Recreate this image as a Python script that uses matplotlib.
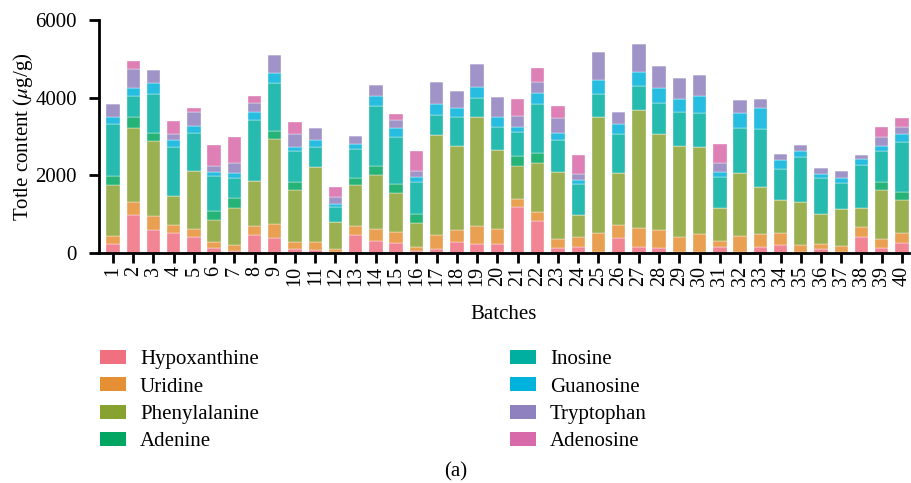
import matplotlib.pyplot as plt
from matplotlib.patches import Patch
import numpy as np

plt.rcParams['font.family'] = ['Liberation Serif', 'DejaVu Serif']
plt.rcParams['mathtext.fontset'] = 'stix'

batches = list(range(1, 41))

hypoxanthine = [243, 988, 590, 503, 416, 139, 52, 451, 390, 104,
                78, 20, 451, 312, 260, 52, 104, 295, 243, 225,
                1188, 815, 139, 165, 35, 381, 147, 139, 17, 35,
                156, 35, 147, 217, 35, 95, 35, 416, 139, 251]
uridine = [191, 321, 372, 208, 208, 156, 156, 243, 364, 191,
           217, 84, 234, 312, 278, 113, 364, 295, 442, 399,
           199, 243, 225, 242, 477, 330, 503, 442, 390, 451,
           165, 399, 330, 303, 173, 148, 156, 243, 225, 261]
phenylalanine = [1326, 1916, 1934, 763, 1483, 563, 954, 1161, 2194, 1318,
                 1925, 694, 1058, 1387, 1014, 607, 2558, 2158, 2826, 2038,
                 859, 1248, 1734, 564, 2999, 1344, 3043, 2471, 2341, 2236,
                 849, 1638, 1214, 833, 1110, 771, 953, 511, 1249, 849]
adenine = [234, 278, 199, 0, 0, 217, 243, 0, 191, 225,
           0, 0, 199, 235, 234, 242, 0, 0, 0, 0,
           251, 260, 0, 0, 0, 0, 0, 0, 0, 0,
           0, 0, 0, 0, 0, 0, 0, 0, 225, 217]
inosine = [1318, 529, 997, 1257, 988, 919, 537, 1561, 1231, 780,
           502, 390, 737, 1543, 1205, 824, 520, 755, 469, 581,
           607, 1266, 806, 815, 581, 1014, 607, 823, 885, 893,
           798, 1153, 1508, 806, 1153, 928, 651, 1084, 780, 1274]
guanosine = [191, 216, 278, 173, 174, 104, 113, 217, 277, 122,
             182, 86, 130, 260, 234, 121, 303, 242, 286, 260,
             139, 278, 183, 104, 364, 243, 364, 373, 329, 425,
             130, 373, 529, 234, 165, 104, 130, 156, 148, 200]
tryptophan = [329, 486, 355, 148, 355, 148, 251, 225, 442, 312,
              321, 174, 199, 269, 191, 156, 564, 417, 589, 520,
              277, 286, 398, 156, 720, 321, 729, 573, 546, 555,
              208, 338, 243, 147, 156, 139, 199, 104, 234, 191]
adenosine = [0, 208, 0, 347, 104, 546, 676, 174, 0, 329,
             0, 243, 0, 0, 173, 521, 0, 0, 0, 0,
             451, 373, 312, 468, 0, 0, 0, 0, 0, 0,
             512, 0, 0, 0, 0, 0, 0, 0, 243, 242]

names = ['Hypoxanthine', 'Uridine', 'Phenylalanine', 'Adenine',
         'Inosine', 'Guanosine', 'Tryptophan', 'Adenosine']
series = [hypoxanthine, uridine, phenylalanine, adenine,
          inosine, guanosine, tryptophan, adenosine]
colors = ['#F07080', '#E69035', '#88A232', '#00A661',
          '#00AFA0', '#00B2DC', '#8F80BE', '#D96AAA']

fs = 15

fig = plt.figure(figsize=(9.11, 4.83), dpi=100)
ax = fig.add_axes([99 / 911, 1 - 253 / 483, 810 / 911, 233 / 483])

bottom = np.zeros(len(batches))
for vals, c in zip(series, colors):
    ax.bar(batches, vals, 0.66, bottom=bottom, color=c, alpha=0.85,
           edgecolor='white', linewidth=0.3)
    bottom += np.array(vals)

ax.set_xlim(0.31, 40.35)
ax.set_ylim(0, 6000)
ax.set_yticks([0, 2000, 4000, 6000])
ax.set_xticks(batches)
ax.set_xticklabels([str(b) for b in batches], rotation=90, fontsize=14.5)
ax.tick_params(axis='y', labelsize=fs, width=2, length=7, pad=9)
ax.tick_params(axis='x', width=2, length=7, pad=2)
ax.spines['top'].set_visible(False)
ax.spines['right'].set_visible(False)
ax.spines['left'].set_linewidth(2)
ax.spines['bottom'].set_linewidth(2)
ax.set_xlabel('Batches', fontsize=fs, labelpad=14)
ax.set_ylabel(r'Totle content ($\mu$g/g)', fontsize=fs, labelpad=0)

handles = [Patch(facecolor=c, edgecolor='none') for c in colors]
leg_kw = dict(loc='upper left', frameon=False, fontsize=fs, handlelength=1.25,
              handleheight=0.67, labelspacing=0.38, handletextpad=0.67,
              borderpad=0, borderaxespad=0)
fig.legend(handles[:4], names[:4], bbox_to_anchor=(100 / 911, 1 - 350 / 483), **leg_kw)
fig.legend(handles[4:], names[4:], bbox_to_anchor=(510 / 911, 1 - 350 / 483), **leg_kw)

fig.text(456 / 911, 1 - 472 / 483, '(a)', ha='center', va='center', fontsize=fs)

fig.savefig('out.png', dpi=100)
